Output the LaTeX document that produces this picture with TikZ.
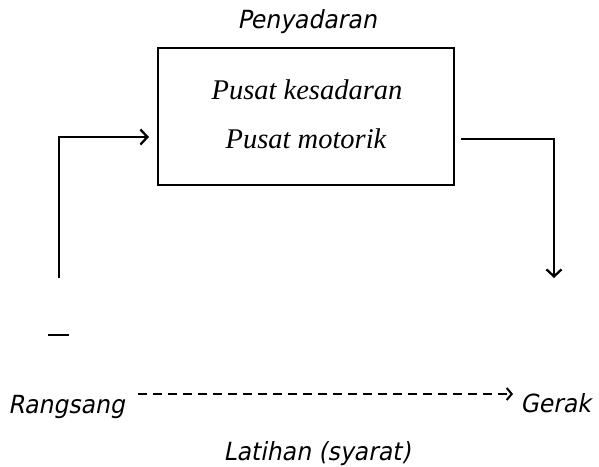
\documentclass[tikz,border=0pt]{standalone}
\usepackage{fontspec}
\setmainfont{Liberation Serif}
\newfontfamily\tahit[FakeStretch=0.94,FakeSlant=0.2]{DejaVu Sans}
\usetikzlibrary{arrows.meta,calc}
\begin{document}
\begin{tikzpicture}[x=1pt,y=-1pt,
  lbl/.style={font=\tahit\fontsize{25}{30}\selectfont, inner sep=0pt},
  inbox/.style={font=\itshape\fontsize{28.5}{34}\selectfont, inner sep=0pt},
  boxstyle/.style={draw, line width=2pt, minimum width=296pt, minimum height=137pt, inner sep=0pt},
  conn/.style={line width=2.3pt, -{Straight Barb[length=7pt,width=15pt,line width=2.3pt]}},
  dconn/.style={line width=2pt, dash pattern=on 9pt off 6pt, -{Straight Barb[length=5pt,width=12pt,line width=2pt]}},
]
\useasboundingbox (0,0) rectangle (599,466);
\node[lbl, anchor=base] (pen) at (307,28) {Penyadaran};
\node[boxstyle] (box) at (306,116.5) {};
\node[inbox, anchor=base] (k1) at (307,99) {Pusat kesadaran};
\node[inbox, anchor=base] (k2) at (306,148) {Pusat motorik};
\coordinate (ls) at (59,278);
\coordinate (rs) at (554,278);
\draw[conn, shorten >=8pt] (ls) |- ($(box.west)+(0,20.5)$);
\draw[conn, shorten <=6pt] ($(box.east)+(0,22.5)$) -| (rs);
\coordinate (d1) at (48,335);
\coordinate (d2) at (69,335);
\draw[line width=2pt] (d1) -- (d2);
\node[lbl, anchor=base west] (rang) at (8,413) {Rangsang};
\node[lbl, anchor=base east] (ger) at (591,412) {Gerak};
\node[lbl, anchor=base] (lat) at (317,460) {Latihan (syarat)};
\coordinate (ds) at (138,394);
\coordinate (de) at (513,394);
\draw[dconn] (ds) -- (de);
\end{tikzpicture}
\end{document}
